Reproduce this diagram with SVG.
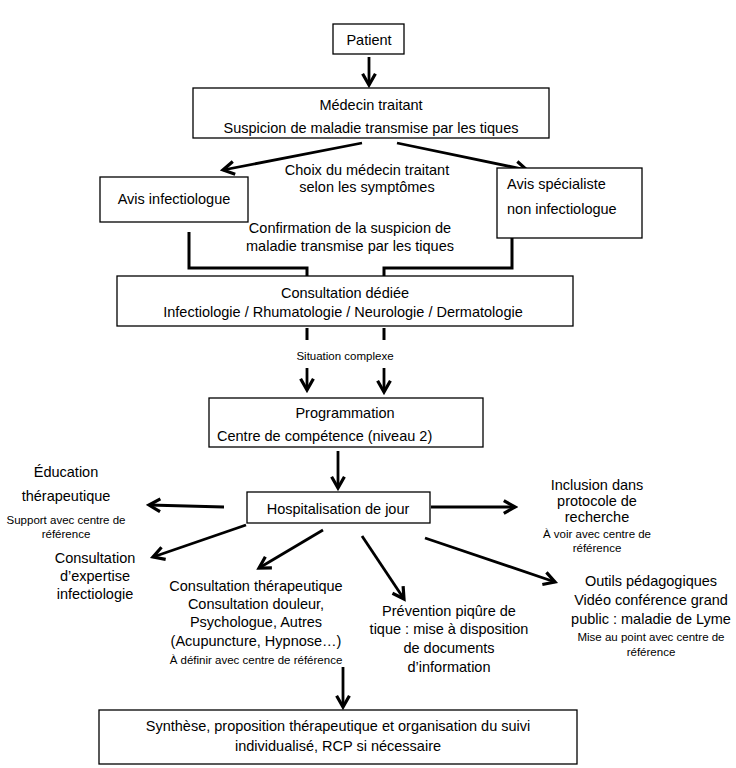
<svg xmlns="http://www.w3.org/2000/svg" width="736" height="768" viewBox="0 0 736 768">
<defs>
<style>
.box{fill:#fff;stroke:#000;stroke-width:1.3}
.t{font-family:"Liberation Sans",Arial,sans-serif;font-size:14.5px;fill:#000;text-anchor:middle}
.s{font-family:"Liberation Sans",Arial,sans-serif;font-size:11.5px;fill:#000;text-anchor:middle}
.l{text-anchor:start}
.c{fill:none;stroke:#000;stroke-width:3}
.a{fill:none;stroke:#000;stroke-width:2.8;marker-end:url(#ah)}
</style>
<marker id="ah" viewBox="0 0 10 10" refX="8" refY="5" markerWidth="16" markerHeight="16" markerUnits="userSpaceOnUse" orient="auto">
<path d="M1,1 L8,5 L1,9" fill="none" stroke="#000" stroke-width="2"/>
</marker>
</defs>
<rect width="736" height="768" fill="#fff"/>
<g id="connectors">
<line class="a" x1="369" y1="57" x2="369" y2="85"/>
<line class="a" x1="362" y1="143" x2="223" y2="170"/>
<line class="a" x1="397" y1="143" x2="527" y2="170"/>
<polyline class="c" points="189,232 189,268 307,268 307,276"/>
<polyline class="c" points="512,238 512,268 384,268 384,276"/>
<line class="c" x1="307" y1="328" x2="307" y2="340"/>
<line class="c" x1="384" y1="328" x2="384" y2="340"/>
<line class="a" x1="307" y1="368" x2="307" y2="390"/>
<line class="a" x1="384" y1="368" x2="384" y2="392"/>
<line class="a" x1="338" y1="451" x2="338" y2="488"/>
<line class="a" x1="224" y1="507" x2="149" y2="505"/>
<line class="a" x1="431" y1="507" x2="515" y2="507"/>
<line class="a" x1="246" y1="525" x2="153" y2="557"/>
<line class="a" x1="323" y1="530" x2="259" y2="568"/>
<line class="a" x1="362" y1="536" x2="404" y2="599"/>
<line class="a" x1="425" y1="538" x2="555" y2="582"/>
<line class="a" x1="343" y1="667" x2="343" y2="707"/>
</g>
<g id="patient"><rect class="box" x="333" y="24" width="71" height="30"/><text class="t" x="369" y="45">Patient</text></g>
<g id="medecin"><rect class="box" x="193" y="88" width="356" height="50"/><text class="t" x="371" y="110">Médecin traitant</text><text class="t" x="371" y="133">Suspicion de maladie transmise par les tiques</text></g>
<g id="choix"><text class="t" x="367" y="175">Choix du médecin traitant</text><text class="t" x="367" y="192">selon les symptômes</text></g>
<g id="avis-infectio"><rect class="box" x="100" y="177" width="148" height="45"/><text class="t" x="174" y="204">Avis infectiologue</text></g>
<g id="avis-specialiste"><rect class="box" x="497" y="168" width="145" height="70"/><text class="t l" x="507" y="189">Avis spécialiste</text><text class="t l" x="507" y="214">non infectiologue</text></g>
<g id="confirmation"><text class="t" x="350" y="233">Confirmation de la suspicion de</text><text class="t" x="350" y="251">maladie transmise par les tiques</text></g>
<g id="consultation-dediee"><rect class="box" x="117" y="276" width="456" height="50"/><text class="t" x="345" y="298">Consultation dédiée</text><text class="t" x="343" y="317">Infectiologie / Rhumatologie / Neurologie / Dermatologie</text></g>
<g id="situation"><text class="s" x="345" y="360">Situation complexe</text></g>
<g id="programmation"><rect class="box" x="209" y="398" width="274" height="49"/><text class="t" x="345" y="418">Programmation</text><text class="t l" x="217" y="441">Centre de compétence  (niveau 2)</text></g>
<g id="hospitalisation"><rect class="box" x="247" y="492" width="183" height="31"/><text class="t" x="338" y="514">Hospitalisation de jour</text></g>
<g id="education"><text class="t" x="66" y="477">Éducation</text><text class="t" x="66" y="501">thérapeutique</text><text class="s" x="66" y="524">Support avec centre de</text><text class="s" x="66" y="538">référence</text></g>
<g id="inclusion"><text class="t" x="597" y="490">Inclusion dans</text><text class="t" x="597" y="506">protocole de</text><text class="t" x="597" y="522">recherche</text><text class="s" x="597" y="538">À voir avec centre de</text><text class="s" x="597" y="552">référence</text></g>
<g id="expertise"><text class="t" x="95" y="563">Consultation</text><text class="t" x="95" y="581">d’expertise</text><text class="t" x="95" y="599">infectiologie</text></g>
<g id="therapeutique"><text class="t" x="256" y="591">Consultation thérapeutique</text><text class="t" x="256" y="609">Consultation douleur,</text><text class="t" x="256" y="627">Psychologue, Autres</text><text class="t" x="256" y="646">(Acupuncture, Hypnose…)</text><text class="s" x="256" y="664">À définir avec centre de référence</text></g>
<g id="prevention"><text class="t" x="449" y="616">Prévention piqûre de</text><text class="t" x="449" y="634">tique : mise à disposition</text><text class="t" x="449" y="653">de documents</text><text class="t" x="449" y="672">d’information</text></g>
<g id="outils"><text class="t" x="651" y="586">Outils pédagogiques</text><text class="t" x="651" y="605">Vidéo conférence grand</text><text class="t" x="651" y="624">public : maladie de Lyme</text><text class="s" x="651" y="641">Mise au point avec centre de</text><text class="s" x="651" y="656">référence</text></g>
<g id="synthese"><rect class="box" x="99" y="710" width="478" height="54"/><text class="t" x="338" y="731">Synthèse, proposition thérapeutique et organisation du suivi</text><text class="t" x="338" y="751">individualisé, RCP si nécessaire</text></g>
</svg>
